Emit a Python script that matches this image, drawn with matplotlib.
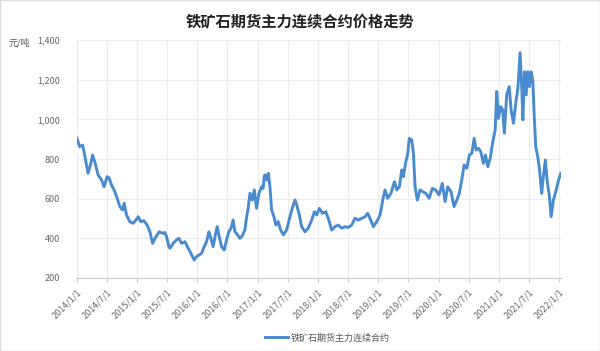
import pandas as pd
import matplotlib.pyplot as plt
import matplotlib.ticker as ticker
from matplotlib.patches import Rectangle

plt.rcParams['font.family'] = ['Noto Sans CJK SC', 'DejaVu Sans']

# === Données (prix en yuan/tonne) ===
dates = [
    "2014-01-01", "2014-01-19", "2014-02-05", "2014-02-12", "2014-03-10", "2014-03-25",
    "2014-04-06", "2014-04-20", "2014-05-10", "2014-05-31", "2014-06-15", "2014-07-04",
    "2014-07-16", "2014-07-30", "2014-08-15", "2014-08-30", "2014-09-19", "2014-10-05",
    "2014-10-15", "2014-10-29", "2014-11-18", "2014-12-08", "2014-12-25", "2015-01-08",
    "2015-01-24", "2015-02-11", "2015-03-03", "2015-03-20", "2015-04-05", "2015-04-25",
    "2015-05-15", "2015-06-08", "2015-06-18", "2015-06-29", "2015-07-13", "2015-07-19",
    "2015-08-08", "2015-08-28", "2015-09-11", "2015-09-28", "2015-10-18", "2015-11-07",
    "2015-11-27", "2015-12-13", "2015-12-28", "2016-01-12", "2016-01-27", "2016-02-12",
    "2016-02-26", "2016-03-11", "2016-03-21", "2016-04-06", "2016-04-21", "2016-04-30",
    "2016-05-13", "2016-05-27", "2016-06-12", "2016-06-26", "2016-07-10", "2016-07-23",
    "2016-08-05", "2016-08-16", "2016-09-01", "2016-09-15", "2016-09-29", "2016-10-15",
    "2016-10-26", "2016-11-04", "2016-11-15", "2016-11-29", "2016-12-11", "2016-12-25",
    "2017-01-08", "2017-01-25", "2017-02-03", "2017-02-09", "2017-02-14", "2017-02-24",
    "2017-03-06", "2017-03-16", "2017-03-26", "2017-04-09", "2017-04-21", "2017-05-05",
    "2017-05-20", "2017-06-05", "2017-06-25", "2017-07-15", "2017-08-01", "2017-08-15",
    "2017-08-25", "2017-09-10", "2017-09-24", "2017-10-14", "2017-11-03", "2017-11-24",
    "2017-12-10", "2017-12-24", "2018-01-09", "2018-01-29", "2018-02-17", "2018-03-04",
    "2018-03-25", "2018-04-14", "2018-05-04", "2018-05-25", "2018-06-14", "2018-07-04",
    "2018-07-24", "2018-08-13", "2018-09-02", "2018-09-23", "2018-10-13", "2018-10-29",
    "2018-11-12", "2018-12-02", "2018-12-23", "2019-01-12", "2019-02-01", "2019-02-11",
    "2019-02-27", "2019-03-19", "2019-04-09", "2019-04-23", "2019-05-09", "2019-05-23",
    "2019-06-02", "2019-06-17", "2019-06-29", "2019-07-08", "2019-07-23", "2019-08-02",
    "2019-08-12", "2019-08-26", "2019-09-11", "2019-09-28", "2019-10-16", "2019-11-05",
    "2019-11-25", "2019-12-15", "2020-01-04", "2020-01-24", "2020-02-10", "2020-02-26",
    "2020-03-17", "2020-04-04", "2020-04-21", "2020-05-06", "2020-05-21", "2020-06-04",
    "2020-06-20", "2020-07-06", "2020-07-21", "2020-08-04", "2020-08-16", "2020-08-30",
    "2020-09-13", "2020-09-29", "2020-10-11", "2020-10-26", "2020-11-09", "2020-11-25",
    "2020-12-09", "2020-12-19", "2020-12-29", "2021-01-12", "2021-01-24", "2021-02-03",
    "2021-02-17", "2021-03-04", "2021-03-16", "2021-03-30", "2021-04-13", "2021-04-26",
    "2021-05-09", "2021-05-20", "2021-05-26", "2021-06-05", "2021-06-15", "2021-06-25",
    "2021-07-05", "2021-07-15", "2021-07-25", "2021-08-02", "2021-08-12", "2021-08-24",
    "2021-09-03", "2021-09-17", "2021-09-27", "2021-10-09", "2021-10-21", "2021-11-03",
    "2021-11-13", "2021-11-27", "2021-12-14", "2021-12-28", "2022-01-11",
]
prix = [
    905, 862, 870, 845, 728, 770,
    820, 786, 720, 694, 660, 711,
    704, 669, 644, 610, 560, 543,
    577, 518, 484, 476, 492, 509,
    484, 489, 467, 433, 375, 408,
    433, 425, 430, 408, 358, 350,
    375, 392, 400, 375, 383, 350,
    316, 291, 308, 316, 325, 358,
    383, 433, 408, 358, 425, 459,
    408, 358, 341, 392, 433, 451,
    492, 433, 417, 400, 412, 442,
    509, 551, 627, 593, 644, 551,
    627, 660, 652, 711, 720, 694,
    728, 660, 543, 509, 467, 484,
    442, 417, 442, 509, 560, 593,
    568, 518, 459, 433, 451, 492,
    534, 518, 551, 526, 534, 501,
    442, 459, 467, 451, 459, 455,
    467, 501, 492, 501, 509, 526,
    501, 459, 484, 518, 610, 644,
    602, 627, 686, 644, 660, 745,
    711, 786, 829, 904, 896, 829,
    660, 593, 644, 635, 627, 602,
    652, 644, 619, 677, 585, 660,
    635, 560, 593, 627, 694, 770,
    753, 820, 829, 904, 845, 854,
    837, 778, 820, 761, 803, 887,
    946, 1140, 1005, 1064, 1047, 930,
    1123, 1165, 1047, 980, 1081, 1157,
    1336, 1148, 997, 1240, 1123, 1240,
    1165, 1240, 1199, 1031, 862, 812,
    753, 627, 711, 795, 686, 610,
    509, 593, 644, 694, 728,
]
ticks_x = pd.date_range("2014-01-01", "2022-01-01", freq="6MS")
labels_x = [f"{d.year}/{d.month}/1" for d in ticks_x]
ticks_y = [200, 400, 600, 800, 1000, 1200, 1400]

df = pd.DataFrame({"date": pd.to_datetime(dates), "prix": prix})

# === Figure ===
fig = plt.figure(figsize=(6.0, 3.51), dpi=100)
ax = fig.add_axes([0.128, 0.208, 0.807, 0.678])

ax.plot(df["date"], df["prix"], color="#4a8bcf", linewidth=2.1,
        solid_joinstyle="round", label="铁矿石期货主力连续合约")

ax.set_xlim(pd.Timestamp("2014-01-01"), pd.Timestamp("2022-01-12"))
ax.set_ylim(200, 1400)
ax.set_xticks(ticks_x)
ax.set_xticklabels(labels_x, rotation=45, ha="right", rotation_mode="anchor",
                   fontsize=6.5, color="#666666")
ax.set_yticks(ticks_y)
ax.yaxis.set_major_formatter(ticker.FuncFormatter(lambda v, _: f"{int(v):,}"))
ax.tick_params(axis="y", length=0, pad=12, labelsize=6.5, labelcolor="#666666")
ax.tick_params(axis="x", length=3, color="#cccccc", pad=4)

ax.grid(True, color="#ececec", linewidth=0.8)
ax.set_axisbelow(True)
for s in ["top", "right", "left"]:
    ax.spines[s].set_visible(False)
ax.spines["bottom"].set_color("#cccccc")

fig.text(0.5, 0.937, "铁矿石期货主力连续合约价格走势", ha="center", va="center",
         fontsize=11, fontweight="bold", color="#222222")
fig.text(0.015, 0.877, "元/吨", ha="left", va="center", fontsize=6.5, color="#555555")

ax.legend(loc="center", bbox_to_anchor=(0.518, -0.252), frameon=False,
          fontsize=6.5, labelcolor="#555555", handlelength=2.5, handletextpad=0.3)

fig.patches.append(Rectangle((0, 0), 1, 1, transform=fig.transFigure, fill=False,
                             edgecolor="#dddddd", linewidth=1))

fig.savefig("out.png", dpi=100)
